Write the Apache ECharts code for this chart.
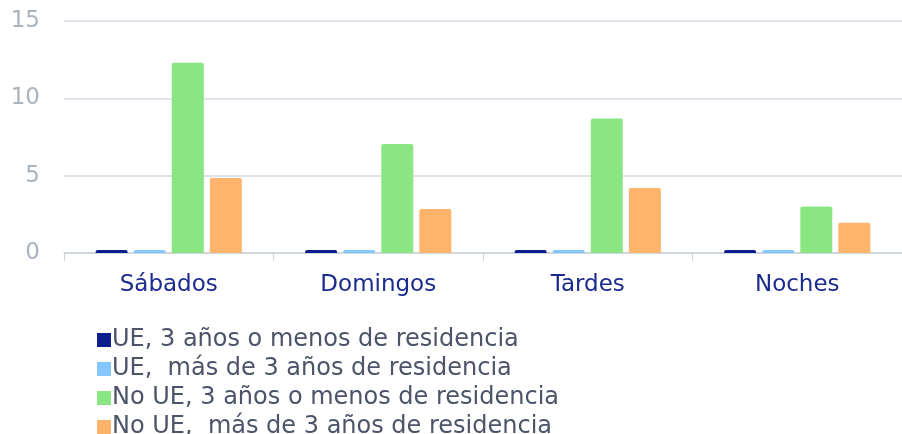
<!DOCTYPE html>
<html>
<head>
<meta charset="utf-8">
<script src="https://cdn.jsdelivr.net/npm/echarts@6/dist/echarts.min.js"></script>
<style>
  html, body { margin: 0; padding: 0; background: #fff; }
  #chart { width: 902px; height: 434px; }
</style>
</head>
<body>
<div id="chart"></div>
<script>
// datos
var categorias = ['Sábados', 'Domingos', 'Tardes', 'Noches']
var serieNombres = [
  'UE, 3 años o menos de residencia',
  'UE,  más de 3 años de residencia',
  'No UE, 3 años o menos de residencia',
  'No UE,  más de 3 años de residencia'
]
var ueMenos3 = [0.2, 0.2, 0.2, 0.2]
var ueMas3 = [0.2, 0.2, 0.2, 0.2]
var noUeMenos3 = [12.3, 7.05, 8.7, 3.0]
var noUeMas3 = [4.85, 2.85, 4.2, 1.95]
var yTicks = [0, 5, 10, 15]

var colores = ['#0C1E8C', '#85C6FF', '#8AE682', '#FFB36B']
var valores = [ueMenos3, ueMas3, noUeMenos3, noUeMas3]
var fuente = 'DejaVu Sans'

var myChart = echarts.init(document.getElementById('chart'))

var series = serieNombres.map(function (nombre, i) {
  return {
    name: nombre,
    type: 'bar',
    barWidth: 32,
    barGap: '19%',
    data: valores[i],
    itemStyle: {
      color: colores[i],
      borderRadius: [2, 2, 0, 0]
    }
  }
})

myChart.setOption({
  animation: false,
  color: colores,
  grid: {
    left: 64,
    right: -2,
    top: 21,
    bottom: 181
  },
  legend: {
    orient: 'vertical',
    left: 97,
    top: 328,
    padding: 0,
    height: 140,
    itemWidth: 14,
    itemHeight: 14,
    itemGap: 5,
    icon: 'rect',
    data: serieNombres,
    textStyle: {
      fontFamily: fuente,
      fontSize: 24,
      lineHeight: 22,
      color: '#4B5468',
      padding: [0, 0, 0, -4]
    }
  },
  xAxis: {
    type: 'category',
    data: categorias,
    axisLine: { lineStyle: { color: '#CDD3DB', width: 1.5 } },
    axisTick: { show: true, length: 8, lineStyle: { color: '#CDD3DB' } },
    axisLabel: {
      fontFamily: fuente,
      fontSize: 23,
      color: '#1A2A8F',
      margin: 21
    }
  },
  yAxis: {
    type: 'value',
    min: yTicks[0],
    max: yTicks[yTicks.length - 1],
    interval: 5,
    axisLine: { show: false },
    axisTick: { show: false },
    splitLine: { lineStyle: { color: '#D5DAE2', width: 1.5 } },
    axisLabel: {
      fontFamily: fuente,
      fontSize: 23,
      color: '#A9B3C0',
      margin: 24
    }
  },
  series: series
})
</script>
</body>
</html>
